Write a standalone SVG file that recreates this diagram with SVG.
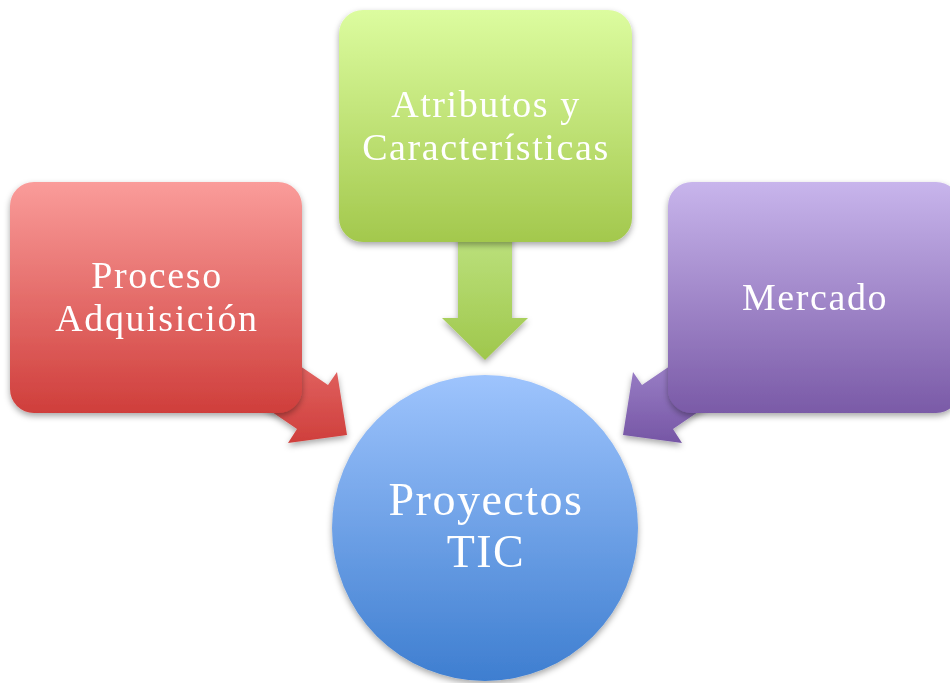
<svg xmlns="http://www.w3.org/2000/svg" width="950" height="683" viewBox="0 0 950 683">
<defs>
<linearGradient id="gRed" x1="0" y1="0" x2="0" y2="1"><stop offset="0" stop-color="#FA9C9A"/><stop offset="1" stop-color="#CF3E3B"/></linearGradient>
<linearGradient id="gGreen" x1="0" y1="0" x2="0" y2="1"><stop offset="0" stop-color="#DCFC9F"/><stop offset="1" stop-color="#A3C84D"/></linearGradient>
<linearGradient id="gPurple" x1="0" y1="0" x2="0" y2="1"><stop offset="0" stop-color="#C8B5EC"/><stop offset="1" stop-color="#7A5AA7"/></linearGradient>
<linearGradient id="gBlue" x1="0" y1="0" x2="0" y2="1"><stop offset="0" stop-color="#9EC4FD"/><stop offset="1" stop-color="#3E7ED0"/></linearGradient>
<linearGradient id="aRed" x1="0" y1="0" x2="0" y2="1"><stop offset="0" stop-color="#E46866"/><stop offset="1" stop-color="#CF3F3C"/></linearGradient>
<linearGradient id="aGreen" x1="0" y1="0" x2="0" y2="1"><stop offset="0" stop-color="#BDE27F"/><stop offset="1" stop-color="#9FC74C"/></linearGradient>
<linearGradient id="aPurple" x1="0" y1="0" x2="0" y2="1"><stop offset="0" stop-color="#A086CC"/><stop offset="1" stop-color="#7656A5"/></linearGradient>
<filter id="sh" x="-20%" y="-20%" width="140%" height="140%"><feDropShadow dx="0" dy="3" stdDeviation="3" flood-color="#000" flood-opacity="0.35"/></filter>
</defs>
<style>
.lbl{font-family:"Liberation Serif","DejaVu Serif",serif;fill:#fff;text-anchor:middle;font-size:38px;letter-spacing:1.6px}
.big{font-size:46px;letter-spacing:1.5px}
</style>
<g id="connectors" filter="url(#sh)">
<polygon fill="url(#aRed)" points="278,351 328,385 337,372 347,435 288,443 297,429 247,395"/>
<polygon fill="url(#aPurple)" points="692,351 642,385 633,372 623,435 682,443 673,429 723,395"/>
<polygon fill="url(#aGreen)" points="458,230 512,230 512,318 528,318 485,360 442,318 458,318"/>
</g>
<g id="proceso" filter="url(#sh)">
<rect x="10" y="182" width="292" height="231" rx="24" fill="url(#gRed)"/>
<text class="lbl" x="157" y="288">Proceso</text>
<text class="lbl" x="157" y="331">Adquisición</text>
</g>
<g id="atributos" filter="url(#sh)">
<rect x="339" y="10" width="293" height="232" rx="24" fill="url(#gGreen)"/>
<text class="lbl" x="486" y="117">Atributos y</text>
<text class="lbl" x="486" y="160">Características</text>
</g>
<g id="mercado" filter="url(#sh)">
<rect x="668" y="182" width="292" height="231" rx="24" fill="url(#gPurple)"/>
<text class="lbl" x="815" y="310">Mercado</text>
</g>
<g id="proyectos" filter="url(#sh)">
<circle cx="485" cy="528" r="153" fill="url(#gBlue)"/>
<text class="lbl big" x="486" y="515">Proyectos</text>
<text class="lbl big" x="486" y="567">TIC</text>
</g>
</svg>
